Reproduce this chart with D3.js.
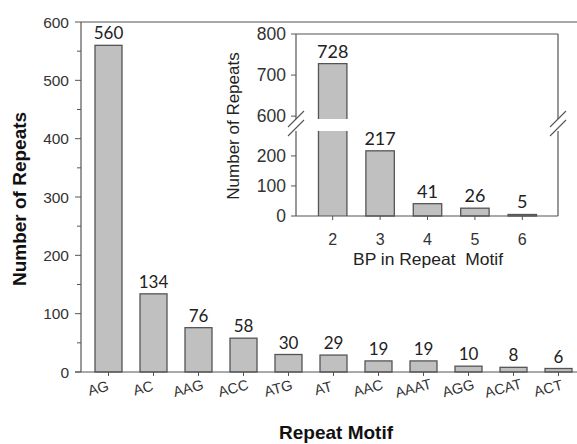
<!DOCTYPE html>
<html>
<head>
<meta charset="utf-8">
<script src="https://cdn.jsdelivr.net/npm/d3@7"></script>
<style>
  html, body { margin: 0; padding: 0; background: #fff; }
  svg { display: block; }
  .tick-lbl { font-family: Arial, "Liberation Sans", sans-serif; fill: #333; }
  .val-lbl { font-family: Lato, "Open Sans", sans-serif; fill: #222; }
</style>
</head>
<body>
<svg id="chart" width="577" height="444"></svg>
<script>
// Main chart data
var motifs = ['AG', 'AC', 'AAG', 'ACC', 'ATG', 'AT', 'AAC', 'AAAT', 'AGG', 'ACAT', 'ACT'];
var motifCounts = [560, 134, 76, 58, 30, 29, 19, 19, 10, 8, 6];
var mainTicks = [0, 100, 200, 300, 400, 500, 600];

// Inset data
var bpLengths = ['2', '3', '4', '5', '6'];
var bpCounts = [728, 217, 41, 26, 5];
var insetLowTicks = [0, 100, 200];
var insetHighTicks = [600, 700, 800];

(function() {
    'use strict';

    var svg = d3.select('#chart');
    var axisColor = '#555';
    var barFill = '#c0c0c0';

    // ---------- main chart ----------
    var left = 81, top = 22, bottom = 372;

    var x = d3.scaleBand().domain(motifs).range([86, 581]).paddingInner(0.4).paddingOuter(0.2);
    var y = d3.scaleLinear().domain([0, 600]).range([bottom, top]);

    // frame top line
    svg.append('line').attr('x1', left).attr('x2', 577).attr('y1', top).attr('y2', top)
        .attr('stroke', axisColor).attr('stroke-width', 1.2);

    svg.selectAll('rect.bar').data(motifs).join('rect')
        .attr('class', 'bar')
        .attr('x', function(d) { return x(d); })
        .attr('width', x.bandwidth())
        .attr('y', function(d, i) { return y(motifCounts[i]); })
        .attr('height', function(d, i) { return bottom - y(motifCounts[i]); })
        .attr('fill', barFill).attr('stroke', axisColor).attr('stroke-width', 1.3);

    // y axis
    var yAx = svg.append('g');
    yAx.append('line').attr('x1', left).attr('x2', left).attr('y1', top).attr('y2', bottom)
        .attr('stroke', axisColor).attr('stroke-width', 1.2);
    d3.range(0, 601, 50).forEach(function(v) {
        var major = v % 100 === 0;
        yAx.append('line').attr('x1', left - (major ? 6 : 4)).attr('x2', left)
            .attr('y1', y(v)).attr('y2', y(v)).attr('stroke', axisColor).attr('stroke-width', 1);
    });
    yAx.selectAll('text').data(mainTicks).join('text')
        .attr('class', 'tick-lbl')
        .attr('x', left - 12).attr('y', function(d) { return y(d); })
        .attr('dy', '0.36em').attr('text-anchor', 'end').attr('font-size', 15.5)
        .text(function(d) { return d; });

    // x axis
    svg.append('line').attr('x1', left - 6).attr('x2', 577).attr('y1', bottom).attr('y2', bottom)
        .attr('stroke', axisColor).attr('stroke-width', 1.2);
    motifs.forEach(function(m) {
        var cx = x(m) + x.bandwidth() / 2;
        svg.append('line').attr('x1', cx).attr('x2', cx).attr('y1', bottom).attr('y2', bottom + 4)
            .attr('stroke', axisColor);
        svg.append('text').attr('class', 'tick-lbl')
            .attr('transform', 'translate(' + (cx - 9) + ',' + (bottom + 21) + ') rotate(-15)')
            .attr('text-anchor', 'middle').attr('font-size', 14.5)
            .text(m);
    });

    // value labels
    svg.selectAll('text.vmain').data(motifs).join('text')
        .attr('class', 'val-lbl vmain')
        .attr('x', function(d) { return x(d) + x.bandwidth() / 2; })
        .attr('y', function(d, i) { return y(motifCounts[i]) - 6; })
        .attr('text-anchor', 'middle').attr('font-size', 17)
        .text(function(d, i) { return motifCounts[i]; });

    // axis titles
    svg.append('text').attr('x', 336).attr('y', 439).attr('text-anchor', 'middle')
        .attr('font-family', 'Arial, "Liberation Sans", sans-serif').attr('font-weight', 'bold')
        .attr('font-size', 19).attr('fill', '#111').text('Repeat Motif');
    svg.append('text').attr('transform', 'translate(26,199) rotate(-90)').attr('text-anchor', 'middle')
        .attr('font-family', 'Arial, "Liberation Sans", sans-serif').attr('font-weight', 'bold')
        .attr('font-size', 19).attr('fill', '#111').text('Number of Repeats');

    // ---------- inset ----------
    var iL = 296, iR = 558, iT = 34, iB = 216;
    var gapTop = 119, gapBot = 131;
    var ix = d3.scaleBand().domain(bpLengths).range([309, 546]).paddingInner(0.4).paddingOuter(0.2);
    var yLow = d3.scaleLinear().domain([0, 283]).range([iB, gapBot]);
    var yHigh = d3.scaleLinear().domain([593, 800]).range([gapTop, iT]);

    function yBreak(v) { return v > 590 ? yHigh(v) : yLow(v); }

    var inset = svg.append('g');
    inset.append('rect').attr('x', iL).attr('y', iT - 2).attr('width', iR - iL + 6).attr('height', iB - iT + 2)
        .attr('fill', '#fff');

    // bars (drawn with gap for the break)
    bpLengths.forEach(function(b, i) {
        var v = bpCounts[i];
        var bx = ix(b), bw = ix.bandwidth();
        if (v > 590) {
            inset.append('rect').attr('x', bx).attr('width', bw)
                .attr('y', yHigh(v)).attr('height', gapTop - yHigh(v))
                .attr('fill', barFill).attr('stroke', 'none');
            inset.append('rect').attr('x', bx).attr('width', bw)
                .attr('y', gapBot).attr('height', iB - gapBot)
                .attr('fill', barFill).attr('stroke', 'none');
            inset.append('path')
                .attr('d', 'M' + bx + ',' + gapTop + 'V' + yHigh(v) + 'H' + (bx + bw) + 'V' + gapTop +
                    'M' + bx + ',' + gapBot + 'V' + iB + 'M' + (bx + bw) + ',' + gapBot + 'V' + iB)
                .attr('fill', 'none').attr('stroke', axisColor).attr('stroke-width', 1.3);
        } else {
            inset.append('rect').attr('x', bx).attr('width', bw)
                .attr('y', yLow(v)).attr('height', iB - yLow(v))
                .attr('fill', barFill).attr('stroke', axisColor).attr('stroke-width', 1.3);
        }
        inset.append('text').attr('class', 'val-lbl')
            .attr('x', bx + bw / 2).attr('y', yBreak(v) - 6)
            .attr('text-anchor', 'middle').attr('font-size', 18)
            .text(v);
        inset.append('line').attr('x1', bx + bw / 2).attr('x2', bx + bw / 2)
            .attr('y1', iB).attr('y2', iB + 4).attr('stroke', axisColor);
        inset.append('text').attr('class', 'tick-lbl')
            .attr('x', bx + bw / 2).attr('y', iB + 29)
            .attr('text-anchor', 'middle').attr('font-size', 16)
            .text(b);
    });

    // frame: left, right, top, bottom with break gaps
    inset.append('path')
        .attr('d', 'M' + iL + ',' + iT + 'V' + gapTop + 'M' + iL + ',' + gapBot + 'V' + iB +
            'M' + iR + ',' + iT + 'V' + gapTop + 'M' + iR + ',' + gapBot + 'V' + iB +
            'M' + iL + ',' + iT + 'H' + iR + 'M' + iL + ',' + iB + 'H' + iR)
        .attr('fill', 'none').attr('stroke', axisColor).attr('stroke-width', 1.2);

    // break marks
    [iL, iR].forEach(function(bx) {
        [0, 9].forEach(function(off) {
            inset.append('line')
                .attr('x1', bx - 8).attr('y1', gapTop + 8 + off)
                .attr('x2', bx + 8).attr('y2', gapTop - 8 + off)
                .attr('stroke', axisColor).attr('stroke-width', 1.1);
        });
    });

    // inset y ticks
    insetLowTicks.concat(insetHighTicks).forEach(function(v) {
        var yy = yBreak(v);
        inset.append('line').attr('x1', iL - 5).attr('x2', iL).attr('y1', yy).attr('y2', yy)
            .attr('stroke', axisColor);
        inset.append('text').attr('class', 'tick-lbl')
            .attr('x', iL - 10).attr('y', yy).attr('dy', '0.36em')
            .attr('text-anchor', 'end').attr('font-size', 17.5)
            .text(v);
    });

    inset.append('text').attr('transform', 'translate(239,126) rotate(-90)').attr('text-anchor', 'middle')
        .attr('font-family', 'Arial, "Liberation Sans", sans-serif')
        .attr('font-size', 17).attr('fill', '#222').text('Number of Repeats');
    inset.append('text').attr('x', 428).attr('y', 265).attr('text-anchor', 'middle')
        .attr('font-family', 'Arial, "Liberation Sans", sans-serif')
        .attr('font-size', 16.5).attr('fill', '#222').attr('xml:space', 'preserve')
        .attr('textLength', 150).attr('lengthAdjust', 'spacingAndGlyphs')
        .text('BP in Repeat  Motif');
})();
</script>
</body>
</html>
